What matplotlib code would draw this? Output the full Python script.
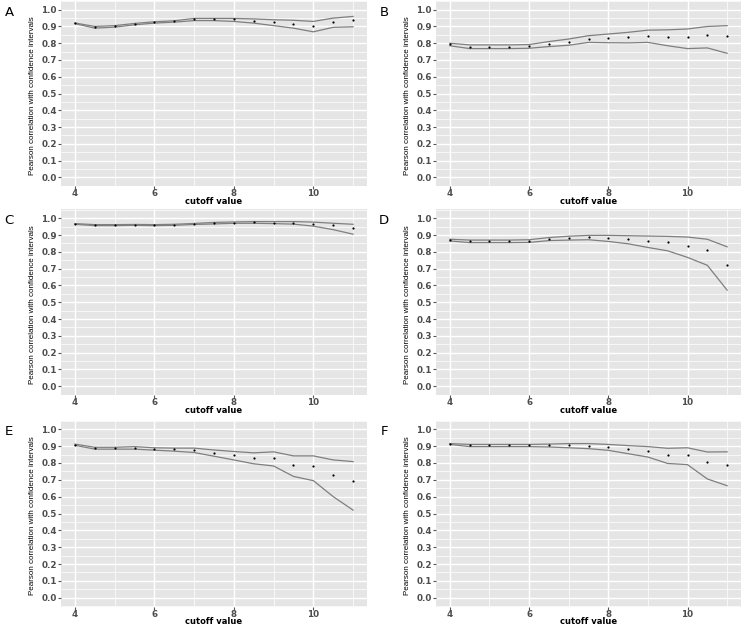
import matplotlib
matplotlib.use("Agg")
import matplotlib.pyplot as plt
from matplotlib.ticker import MultipleLocator

cutoff = [4, 4.5, 5, 5.5, 6, 6.5, 7, 7.5, 8, 8.5, 9, 9.5, 10, 10.5, 11]

A_r = [0.919, 0.895, 0.901, 0.915, 0.925, 0.931, 0.943, 0.943, 0.943, 0.935, 0.925, 0.917, 0.903, 0.929, 0.937]
A_up = [0.921, 0.900, 0.905, 0.918, 0.928, 0.934, 0.948, 0.948, 0.948, 0.945, 0.940, 0.937, 0.930, 0.950, 0.960]
A_lo = [0.917, 0.890, 0.896, 0.910, 0.920, 0.926, 0.935, 0.935, 0.930, 0.920, 0.905, 0.890, 0.868, 0.895, 0.898]

B_r = [0.793, 0.778, 0.778, 0.778, 0.781, 0.795, 0.807, 0.827, 0.831, 0.837, 0.844, 0.839, 0.837, 0.850, 0.841]
B_up = [0.800, 0.790, 0.790, 0.790, 0.792, 0.810, 0.825, 0.845, 0.855, 0.865, 0.878, 0.880, 0.885, 0.900, 0.905]
B_lo = [0.785, 0.768, 0.768, 0.768, 0.770, 0.780, 0.788, 0.805, 0.803, 0.802, 0.805, 0.785, 0.768, 0.772, 0.740]

C_r = [0.966, 0.959, 0.959, 0.961, 0.959, 0.961, 0.966, 0.970, 0.974, 0.976, 0.974, 0.974, 0.968, 0.957, 0.941]
C_up = [0.968, 0.962, 0.962, 0.963, 0.962, 0.964, 0.969, 0.975, 0.978, 0.980, 0.980, 0.980, 0.977, 0.970, 0.964]
C_lo = [0.964, 0.956, 0.956, 0.958, 0.956, 0.958, 0.963, 0.966, 0.970, 0.970, 0.968, 0.965, 0.953, 0.932, 0.905]

D_r = [0.870, 0.862, 0.862, 0.862, 0.864, 0.876, 0.882, 0.886, 0.880, 0.874, 0.864, 0.856, 0.834, 0.813, 0.724]
D_up = [0.875, 0.870, 0.870, 0.870, 0.872, 0.885, 0.893, 0.898, 0.898, 0.896, 0.894, 0.892, 0.888, 0.875, 0.830]
D_lo = [0.865, 0.855, 0.855, 0.855, 0.856, 0.867, 0.870, 0.872, 0.862, 0.848, 0.826, 0.806, 0.767, 0.720, 0.572]

E_r = [0.909, 0.888, 0.888, 0.890, 0.884, 0.880, 0.876, 0.860, 0.846, 0.829, 0.829, 0.789, 0.780, 0.728, 0.691]
E_up = [0.912, 0.893, 0.893, 0.897, 0.890, 0.888, 0.888, 0.877, 0.868, 0.860, 0.866, 0.842, 0.842, 0.818, 0.808]
E_lo = [0.905, 0.882, 0.882, 0.882, 0.876, 0.870, 0.862, 0.840, 0.818, 0.795, 0.782, 0.720, 0.695, 0.600, 0.520]

F_r = [0.913, 0.906, 0.906, 0.906, 0.904, 0.906, 0.906, 0.902, 0.894, 0.882, 0.870, 0.850, 0.850, 0.803, 0.789]
F_up = [0.915, 0.910, 0.910, 0.910, 0.910, 0.912, 0.915, 0.915, 0.910, 0.903, 0.897, 0.887, 0.890, 0.865, 0.866]
F_lo = [0.910, 0.897, 0.897, 0.897, 0.897, 0.895, 0.890, 0.885, 0.875, 0.855, 0.835, 0.797, 0.790, 0.705, 0.665]

panels = [("A", A_r, A_up, A_lo), ("B", B_r, B_up, B_lo),
          ("C", C_r, C_up, C_lo), ("D", D_r, D_up, D_lo),
          ("E", E_r, E_up, E_lo), ("F", F_r, F_up, F_lo)]

x_ticks = [4, 6, 8, 10]
y_ticks = [round(0.1 * i, 1) for i in range(11)]

W, H = 743, 625
fig = plt.figure(figsize=(W / 100, H / 100), dpi=100)
fig.patch.set_facecolor("white")

cols = [(61, 367), (436, 741)]
rows = [(1, 186), (209.5, 395), (420.5, 606.5)]

for i, (lab, r, up, lo) in enumerate(panels):
    c = cols[i % 2]
    rw = rows[i // 2]
    pw = c[1] - c[0]
    ph = rw[1] - rw[0]
    ax = fig.add_axes([c[0] / W, 1 - rw[1] / H, pw / W, ph / H])
    ax.set_facecolor("#E5E5E5")
    for s in ax.spines.values():
        s.set_visible(False)
    ax.set_xlim(3.65, 11.35)
    ax.set_ylim(-0.052, 1.052)
    ax.xaxis.set_minor_locator(MultipleLocator(1))
    ax.yaxis.set_minor_locator(MultipleLocator(0.05))
    ax.set_xticks(x_ticks)
    ax.set_yticks(y_ticks)
    ax.set_yticklabels([f"{v:.1f}" for v in y_ticks])
    ax.grid(which="major", color="white", linewidth=1.0)
    ax.grid(which="minor", color="white", linewidth=0.5)
    ax.set_axisbelow(True)
    ax.tick_params(which="major", length=2.0, width=0.8, color="#555555",
                   labelsize=6.3, labelcolor="#4D4D4D", pad=1.0)
    ax.tick_params(axis="x", which="major", pad=0.5)
    ax.tick_params(which="minor", length=0)
    for t in ax.get_xticklabels() + ax.get_yticklabels():
        t.set_fontweight("bold")
    ax.plot(cutoff, up, color="#7F7F7F", linewidth=0.9, zorder=2)
    ax.plot(cutoff, lo, color="#7F7F7F", linewidth=0.9, zorder=2)
    ax.scatter(cutoff, r, s=2.5, color="black", zorder=3, linewidths=0)
    xl = ax.set_xlabel("cutoff value", fontsize=6.0, fontweight="bold", color="black")
    xl.set_va("center")
    ax.xaxis.set_label_coords(0.5, -15.5 / ph)
    yl = ax.set_ylabel("Pearson correlation with confidence intervals", fontsize=5.8,
                       color="black", family=["Liberation Sans", "DejaVu Sans"])
    yl.set_va("center")
    ax.yaxis.set_label_coords(-28.0 / pw, 0.5 - 2.0 / ph)
    fig.text((c[0] - 52) / W, 1 - (rw[0] + 11) / H, lab, fontsize=9.5,
             ha="center", va="center", color="black")

fig.savefig("out.png", dpi=100)
